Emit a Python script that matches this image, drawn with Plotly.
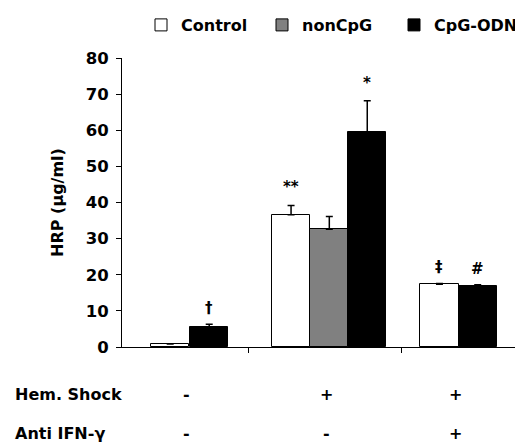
import plotly.graph_objects as go

groups = ["G1", "G2", "G3"]
series = ["Control", "nonCpG", "CpG-ODN"]
control_vals = [0.8, 36.6, 17.4]
control_err = [0.0, 2.6, 0.2]
noncpg_vals = [None, 32.6, None]
noncpg_err = [None, 3.5, None]
cpg_vals = [5.4, 59.6, 16.8]
cpg_err = [0.9, 8.6, 0.4]
sig_control = ["", "**", "‡"]
sig_cpg = ["†", "*", "#"]
hem_shock = ["-", "+", "+"]
anti_ifn = ["-", "-", "+"]
row_labels = ["Hem. Shock", "Anti IFN-γ"]

FONT = "DejaVu Sans, Liberation Sans, Arial, sans-serif"
W = 0.25
off_control = [-0.14, -0.35, -0.38]
off_noncpg = [0, -0.10, 0]
off_cpg = [0.115, 0.148, -0.13]

def bar(name, vals, errs, offs, color, legend):
    return go.Bar(
        name=name, x=groups, y=vals, width=W, offset=offs, legend=legend,
        marker=dict(color=color, line=dict(color="black", width=1)),
        error_y=dict(type="data", array=errs, arrayminus=[0]*len(errs), symmetric=False,
                     color="black", thickness=1.5, width=3.5),
    )

fig = go.Figure()
fig.add_trace(bar(series[0], control_vals, control_err, off_control, "white", "legend"))
fig.add_trace(bar(series[1], noncpg_vals, noncpg_err, off_noncpg, "#808080", "legend2"))
fig.add_trace(bar(series[2], cpg_vals, cpg_err, off_cpg, "black", "legend3"))

ann = []
for i, g in enumerate(groups):
    for vals, errs, offs, sig in [(control_vals, control_err, off_control, sig_control),
                                  (cpg_vals, cpg_err, off_cpg, sig_cpg)]:
        if sig[i]:
            ann.append(dict(x=i + offs[i] + W/2, y=vals[i] + errs[i], xref="x", yref="y",
                            text=sig[i], showarrow=False, yanchor="bottom",
                            yshift=7 if sig[i] in ("**", "*") else 5,
                            font=dict(size=15, family=FONT, color="black")))
centers = [i + (off_control[i] + (off_cpg[i] + W)) / 2 for i in range(3)]
for row, (lab, marks) in enumerate(zip(row_labels, [hem_shock, anti_ifn])):
    ypos = [(347 - 394) / 289, (347 - 433) / 289][row]
    ann.append(dict(x=(13 - 122) / 401, y=ypos, xref="paper", yref="paper", text=lab,
                    showarrow=False, xanchor="left", yanchor="middle",
                    font=dict(size=16, family=FONT, color="black", weight="bold")))
    for i, m in enumerate(marks):
        ann.append(dict(x=centers[i] - 0.02, y=ypos, xref="x", yref="paper", text=m,
                        showarrow=False, yanchor="middle",
                        font=dict(size=16, family=FONT, color="black", weight="bold")))

def leg(px_left):
    # px_left: left edge of the legend square in the page; page is offset 8px by body margin
    return dict(orientation="h", xref="container", yref="container",
                x=(px_left - 8 - 12) / 523, y=1.0,
                xanchor="left", yanchor="top", bgcolor="rgba(0,0,0,0)",
                font=dict(size=16, family=FONT, weight="bold"), itemwidth=30)

fig.update_layout(
    width=523, height=444,
    margin=dict(l=114, r=8, t=50, b=105, autoexpand=False),
    paper_bgcolor="white", plot_bgcolor="white",
    font=dict(family=FONT, size=16, color="black", weight="bold"),
    showlegend=True,
    legend=leg(153), legend2=leg(274), legend3=leg(406),
    annotations=ann,
    bargap=0,
    xaxis=dict(type="category", range=[-0.33, 2.291], showline=True, linecolor="black",
               linewidth=1, ticks="outside", tickson="boundaries", ticklen=5,
               tickcolor="black", showticklabels=False, showgrid=False, zeroline=False),
    yaxis=dict(range=[0, 80], dtick=10, showline=True, linecolor="black", linewidth=1,
               ticks="outside", ticklen=5, tickcolor="black", showgrid=False, zeroline=False,
               ticklabelstandoff=4,
               title=dict(text="HRP (μg/ml)", font=dict(size=16, family=FONT, weight="bold"),
                          standoff=18),
               tickfont=dict(size=16.5, family=FONT, weight="bold")),
)

fig.write_html("out.html")
